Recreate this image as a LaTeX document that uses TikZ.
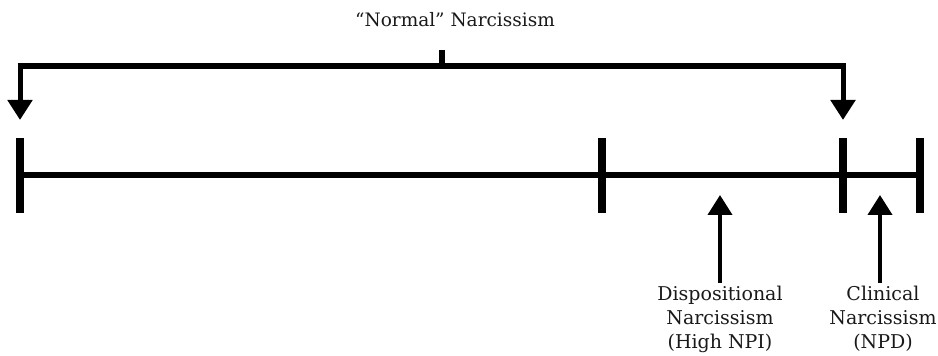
\documentclass[tikz,border=0pt]{standalone}
\usepackage{fontspec}
\setmainfont{DejaVu Serif}
\usetikzlibrary{arrows.meta,calc}
\begin{document}
\begin{tikzpicture}[x=1pt,y=1pt,
  axisline/.style={line width=6.5pt},
  tickmark/.style={line width=8pt},
  bracketline/.style={line width=6pt},
  downarrow/.style={line width=5pt,-{Triangle[width=24pt,length=20pt]}},
  uparrow/.style={line width=4pt,-{Triangle[width=24pt,length=20pt]}},
  lbl/.style={font=\fontsize{19}{24}\selectfont,align=center,inner sep=1pt,text=black!90}]
\useasboundingbox (0,0) rectangle (938,356);
% axis
\coordinate (a0) at (20,181);
\coordinate (a1) at (602,181);
\coordinate (a2) at (843,181);
\coordinate (a3) at (920,181);
\draw[axisline] (a0) -- (a3);
\foreach \n in {a0,a1,a2,a3}{
  \draw[tickmark] ($(\n)+(0,37)$) -- ($(\n)+(0,-38)$);
}
% bracket
\coordinate (bl) at (20,290);
\coordinate (br) at (843,290);
\coordinate (bm) at (442,290);
\coordinate (bs) at (442,306);
\coordinate (tl) at (20,236);
\coordinate (tr) at (843,236);
\draw[bracketline] ([xshift=-2.5pt]bl) -- ([xshift=2.5pt]br);
\draw[line width=6pt] (bm) -- (bs);
\draw[downarrow] ([yshift=3pt]bl) -- (tl);
\draw[downarrow] ([yshift=3pt]br) -- (tr);
\node[lbl,font=\fontsize{18.5}{22}\selectfont] (normal) at (455,336) {“Normal” Narcissism};
% up arrows
\coordinate (d0) at (720,73);
\coordinate (d1) at (720,161);
\coordinate (c0) at (880,73);
\coordinate (c1) at (880,161);
\draw[uparrow] (d0) -- (d1);
\draw[uparrow] (c0) -- (c1);
\node[lbl,anchor=north] (disp) at ([yshift=-2pt]d0) {Dispositional\\Narcissism\\(High NPI)};
\node[lbl,anchor=north] (clin) at ([yshift=-2pt,xshift=3pt]c0) {Clinical\\Narcissism\\(NPD)};
\end{tikzpicture}
\end{document}
